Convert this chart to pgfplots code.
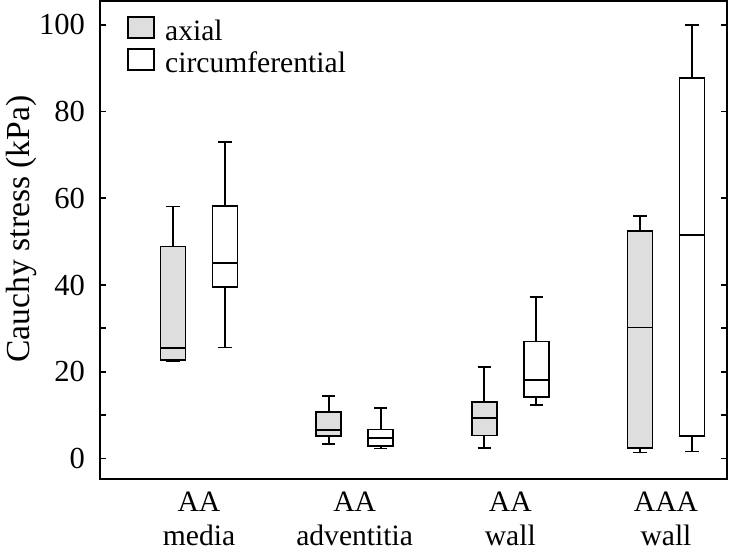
\documentclass[border=0pt]{standalone}
\usepackage{fontspec}
\setmainfont{Liberation Serif}
\usepackage{pgfplots}
\pgfplotsset{compat=1.18}
\usepgfplotslibrary{statistics}
\definecolor{boxgray}{HTML}{DEDEDE}
\newcommand{\fs}{\fontsize{14.8}{17}\selectfont}
\begin{document}
\begin{tikzpicture}
\begin{axis}[
  scale only axis, width=313.5pt, height=239pt,
  xmin=0.364, xmax=4.392, ymin=-4.73, ymax=105.5,
  xtick={1,2,3,4},
  xticklabels={{AA\\media},{AA\\adventitia},{AA\\wall},{AAA\\wall}},
  xticklabel style={align=center, font=\fs, yshift=-3pt},
  xtick style={draw=none},
  ytick={0,20,40,60,80,100},
  extra y ticks={10,30}, extra y tick labels={},
  yticklabel style={font=\fontsize{15.3}{16}\selectfont, xshift=-4pt},
  /pgf/number format/assume math mode=true,
  major tick length=3pt,
  axis line style={line width=0.9pt},
  every tick/.style={line width=0.9pt, black},
  ylabel={Cauchy stress (kPa)},
  ylabel style={font=\fontsize{16.8}{18}\selectfont, at={(axis description cs:-0.1005,0.523)}, anchor=south, inner sep=0pt},
  boxplot/draw direction=y,
  boxplot/box extend=0.16,
  boxplot/whisker extend=0.085,
  legend image code/.code={\draw[#1, line width=0.9pt] (0pt,-3pt) rectangle (13pt,7.5pt);},
  legend style={at={(axis description cs:0.043,0.970)}, anchor=north west,
    draw=none, fill=none, inner sep=0pt, row sep=2pt, font=\fs,
    nodes={inner xsep=5pt, inner ysep=0pt, text height=10.5pt, text depth=2pt}},
  legend cell align=left,
  bx/.style={forget plot, line width=0.9pt, draw=black},
]
% AA media
\addplot[bx, fill=boxgray, boxplot prepared={draw position=0.833, lower whisker=22.4, lower quartile=22.7, median=25.4, upper quartile=48.9, upper whisker=58.1}] coordinates {};
\addplot[bx, fill=white, boxplot prepared={draw position=1.167, lower whisker=25.6, lower quartile=39.6, median=45.0, upper quartile=58.3, upper whisker=72.9}] coordinates {};
% AA adventitia
\addplot[bx, fill=boxgray, boxplot prepared={draw position=1.833, lower whisker=3.3, lower quartile=5.2, median=6.5, upper quartile=10.7, upper whisker=14.4}] coordinates {};
\addplot[bx, fill=white, boxplot prepared={draw position=2.167, lower whisker=2.3, lower quartile=2.9, median=4.7, upper quartile=6.7, upper whisker=11.6}] coordinates {};
% AA wall
\addplot[bx, fill=boxgray, boxplot prepared={draw position=2.833, lower whisker=2.5, lower quartile=5.3, median=9.4, upper quartile=13.1, upper whisker=21.1}] coordinates {};
\addplot[bx, fill=white, boxplot prepared={draw position=3.167, lower whisker=12.3, lower quartile=14.1, median=18.1, upper quartile=27.0, upper whisker=37.3}] coordinates {};
% AAA wall
\addplot[bx, fill=boxgray, boxplot prepared={draw position=3.833, lower whisker=1.4, lower quartile=2.5, median=30.2, upper quartile=52.5, upper whisker=56.0}] coordinates {};
\addplot[bx, fill=white, boxplot prepared={draw position=4.167, lower whisker=1.6, lower quartile=5.1, median=51.5, upper quartile=87.7, upper whisker=100.0}] coordinates {};
\addlegendimage{fill=boxgray, draw=black}
\addlegendentry{axial}
\addlegendimage{fill=white, draw=black}
\addlegendentry{circumferential}
\end{axis}
\pgfresetboundingbox
\path ([xshift=-50pt,yshift=-36.5pt]current axis.south west) rectangle ([xshift=1.5pt,yshift=0.5pt]current axis.north east);
\end{tikzpicture}
\end{document}
